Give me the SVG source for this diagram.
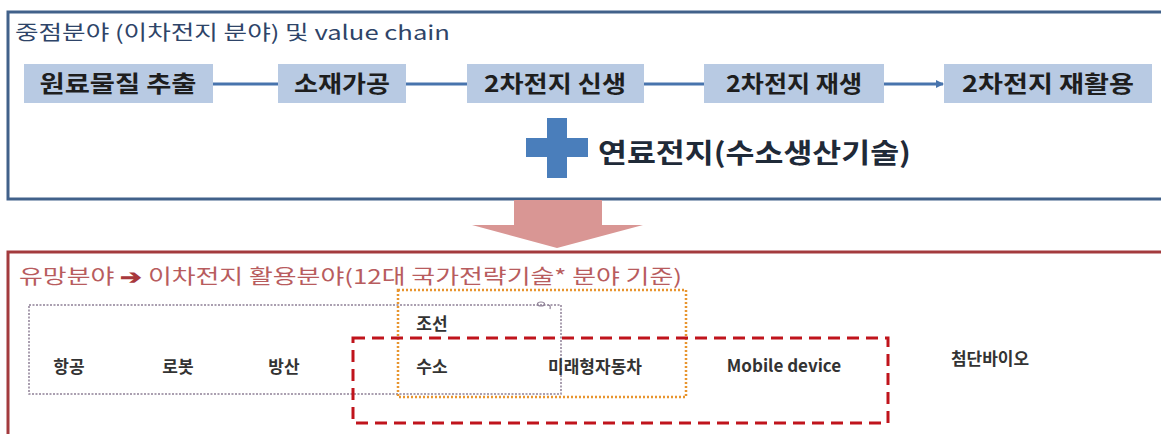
<svg xmlns="http://www.w3.org/2000/svg" width="1161" height="434" viewBox="0 0 1161 434">
<style>
  .kr { font-family: "Noto Sans CJK KR", "Liberation Sans", sans-serif; }
  .chainbox { fill: #b8cae3; }
  .chaintxt { font-family: "Noto Sans CJK KR", "Liberation Sans", sans-serif; font-size: 23px; font-weight: 700; fill: #1e1e1e; text-anchor: middle; }
  .lbl { font-family: "Noto Sans CJK KR", "Liberation Sans", sans-serif; font-size: 17px; font-weight: 700; fill: #333333; text-anchor: middle; }
  .conn { stroke: #4874ad; stroke-width: 3; fill: none; }
</style>
<defs>
  <marker id="arr" markerWidth="8" markerHeight="8" refX="7" refY="4" orient="auto" markerUnits="userSpaceOnUse">
    <path d="M0,0 L8,4 L0,8 Z" fill="#4874ad"/>
  </marker>
</defs>
<rect width="1161" height="434" fill="#ffffff"/>

<g id="top-panel">
  <rect x="8" y="12" width="1160" height="187" fill="#ffffff" stroke="#41618a" stroke-width="3"/>
  <text class="kr" x="15" y="40" font-size="20" fill="#2e4468" textLength="435" lengthAdjust="spacingAndGlyphs">중점분야 (이차전지 분야) 및 value chain</text>
</g>

<g id="node-raw">
  <rect class="chainbox" x="24" y="64" width="189" height="39"/>
  <text class="chaintxt" x="118" y="92" textLength="157" lengthAdjust="spacingAndGlyphs">원료물질 추출</text>
</g>
<g id="node-material">
  <rect class="chainbox" x="278" y="64" width="128" height="39"/>
  <text class="chaintxt" x="342" y="92" textLength="96" lengthAdjust="spacingAndGlyphs">소재가공</text>
</g>
<g id="node-new">
  <rect class="chainbox" x="467" y="64" width="177" height="39"/>
  <text class="chaintxt" x="555" y="92" textLength="142" lengthAdjust="spacingAndGlyphs">2차전지 신생</text>
</g>
<g id="node-regen">
  <rect class="chainbox" x="704" y="64" width="180" height="39"/>
  <text class="chaintxt" x="794" y="92" textLength="136" lengthAdjust="spacingAndGlyphs">2차전지 재생</text>
</g>
<g id="node-recycle">
  <rect class="chainbox" x="944" y="64" width="208" height="39"/>
  <text class="chaintxt" x="1048" y="92" textLength="172" lengthAdjust="spacingAndGlyphs">2차전지 재활용</text>
</g>

<g id="connectors">
  <line class="conn" x1="213" y1="84" x2="278" y2="84"/>
  <line class="conn" x1="406" y1="84" x2="467" y2="84"/>
  <line class="conn" x1="644" y1="84" x2="704" y2="84"/>
  <line class="conn" x1="884" y1="84" x2="943" y2="84" marker-end="url(#arr)"/>
</g>

<g id="fuel-cell">
  <path d="M547,118 H567 V138 H588 V157 H567 V178 H547 V157 H526 V138 H547 Z" fill="#4a7ebb"/>
  <text class="kr" x="598" y="163" font-size="27" font-weight="600" fill="#1f2a38" textLength="313" lengthAdjust="spacingAndGlyphs">연료전지(수소생산기술)</text>
</g>

<g id="down-arrow">
  <path d="M514,200 H602 V225 H643 L557,248 L472,225 H514 Z" fill="#d99694"/>
</g>

<g id="bottom-panel">
  <rect x="8" y="252" width="1160" height="200" fill="#ffffff" stroke="#a33b3e" stroke-width="3"/>
  <text class="kr" x="19" y="284" font-size="20" fill="#b85c5e" textLength="663" lengthAdjust="spacingAndGlyphs">유망분야 <tspan font-weight="700" fill="#a8383c">➔</tspan> 이차전지 활용분야(12대 국가전략기술* 분야 기준)</text>
</g>

<g id="groups">
  <rect id="group-gray" x="29" y="305" width="532" height="89" fill="none" stroke="#8e8096" stroke-width="1.5" stroke-dasharray="2 1.5"/>
  <ellipse cx="541" cy="304" rx="3.5" ry="2" fill="none" stroke="#8e8096" stroke-width="1.2"/>
  <path d="M548,305 Q551,305 550,309" fill="none" stroke="#8e8096" stroke-width="1.2"/>
  <rect id="group-orange" x="398" y="290" width="288" height="107" fill="none" stroke="#e8952e" stroke-width="2.5" stroke-dasharray="2 2"/>
  <rect id="group-red" x="353" y="338" width="535" height="85" fill="none" stroke="#c0141c" stroke-width="3" stroke-dasharray="12 7"/>
</g>

<g id="node-aviation"><text class="lbl" x="69" y="373">항공</text></g>
<g id="node-robot"><text class="lbl" x="178" y="373">로봇</text></g>
<g id="node-defense"><text class="lbl" x="284" y="373">방산</text></g>
<g id="node-ship"><text class="lbl" x="432" y="330">조선</text></g>
<g id="node-hydrogen"><text class="lbl" x="432" y="373">수소</text></g>
<g id="node-future-car"><text class="lbl" x="595" y="373">미래형자동차</text></g>
<g id="node-mobile"><text class="lbl" x="784" y="372" font-family="Liberation Sans, sans-serif">Mobile device</text></g>
<g id="node-bio"><text class="lbl" x="990" y="365">첨단바이오</text></g>
</svg>
